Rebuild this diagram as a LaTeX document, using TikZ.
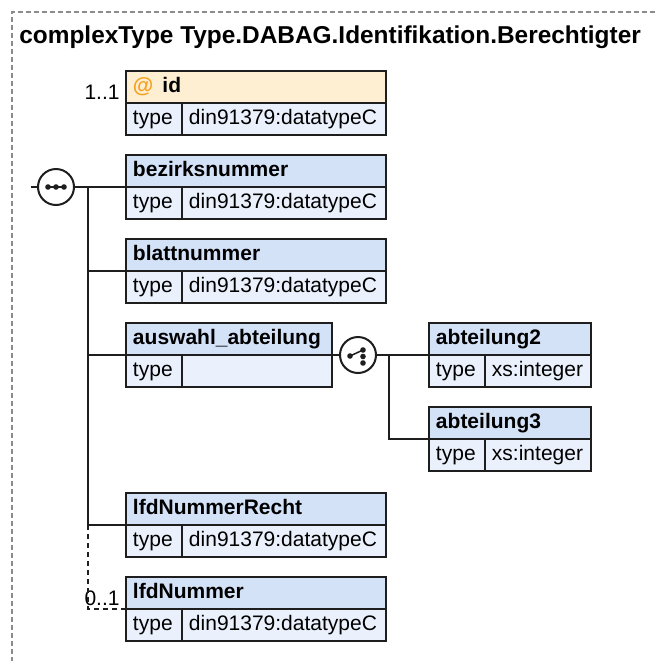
\documentclass[tikz,border=0pt]{standalone}
\usepackage{fontspec}
\setmainfont{Liberation Sans}
\usetikzlibrary{positioning}
\usepackage{xcolor}
\definecolor{hdrblue}{RGB}{212,226,248}
\definecolor{rowblue}{RGB}{234,241,252}
\definecolor{attrbeige}{RGB}{255,239,210}
\definecolor{atorange}{RGB}{245,160,30}
\definecolor{framegray}{RGB}{140,140,140}
\definecolor{edgeblack}{RGB}{30,30,30}

\begin{document}
\begin{tikzpicture}[
    x=0.5pt, y=-0.5pt,
    font=\fontsize{10.5}{12}\selectfont,
    cell/.style={
      draw=edgeblack, line width=1pt, anchor=north west, outer sep=0pt,
      minimum height=16pt, inner xsep=3.5pt, inner ysep=0pt,
      text height=7.6pt, text depth=2.4pt, align=left
    },
    hdr/.style={cell, fill=hdrblue, font=\fontsize{10.5}{12}\selectfont\bfseries},
    attrhdr/.style={hdr, fill=attrbeige},
    typecell/.style={cell, fill=rowblue, text width=21pt},
    valcell/.style={cell, fill=rowblue},
    compositor/.style={
      circle, draw=edgeblack, line width=1pt, fill=white,
      minimum size=18pt, inner sep=0pt, outer sep=0pt
    },
    link/.style={line width=0.75pt, edgeblack},
    mult/.style={inner sep=1.5pt, anchor=south east}
  ]
  \useasboundingbox (0,0) rectangle (655,661);

  % frame and title
  \draw[framegray, line width=0.6pt, dash pattern=on 2.5pt off 1.5pt]
    (655,12) -- (12,12) -- (12,661);
  \node[anchor=base west, inner sep=0pt,
    font=\fontsize{12.2}{14}\selectfont\bfseries] (title) at (19,43)
    {complexType Type.DABAG.Identifikation.Berechtigter};

  % attribute
  \node[attrhdr, text width=123pt] (idH) at (126,71)
    {{\color{atorange}@}\hspace{4.5pt}id};
  \node[typecell] (idT) at (idH.south west) {type};
  \node[valcell, text width=95pt, right=0pt of idT] (idV) {din91379:datatypeC};
  \node[left=1.5pt of idH.south west, mult] (idM) {1..1};

  % sequence children
  \node[hdr, text width=123pt, below=10pt of idT.south west, anchor=north west] (bezH)
    {bezirksnummer};
  \node[typecell] (bezT) at (bezH.south west) {type};
  \node[valcell, text width=95pt, right=0pt of bezT] (bezV) {din91379:datatypeC};

  \node[hdr, text width=123pt, below=10pt of bezT.south west, anchor=north west] (blattH)
    {blattnummer};
  \node[typecell] (blattT) at (blattH.south west) {type};
  \node[valcell, text width=95pt, right=0pt of blattT] (blattV) {din91379:datatypeC};

  \node[hdr, text width=96pt, below=10pt of blattT.south west, anchor=north west] (auswH)
    {auswahl\_abteilung};
  \node[typecell] (auswT) at (auswH.south west) {type};
  \node[valcell, text width=68pt, right=0pt of auswT] (auswV) {};

  \node[hdr, text width=123pt, below=53pt of auswT.south west, anchor=north west] (lfdRH)
    {lfdNummerRecht};
  \node[typecell] (lfdRT) at (lfdRH.south west) {type};
  \node[valcell, text width=95pt, right=0pt of lfdRT] (lfdRV) {din91379:datatypeC};

  \node[hdr, text width=123pt, below=10pt of lfdRT.south west, anchor=north west] (lfdH)
    {lfdNummer};
  \node[typecell] (lfdT) at (lfdH.south west) {type};
  \node[valcell, text width=95pt, right=0pt of lfdT] (lfdV) {din91379:datatypeC};
  \node[left=1.5pt of lfdH.south west, mult] (lfdM) {0..1};

  % choice children
  \node[hdr, text width=74pt, right=48.5pt of auswH.north east, anchor=north west] (abt2H)
    {abteilung2};
  \node[typecell] (abt2T) at (abt2H.south west) {type};
  \node[valcell, text width=46pt, right=0pt of abt2T] (abt2V) {xs:integer};

  \node[hdr, text width=74pt, below=10pt of abt2T.south west, anchor=north west] (abt3H)
    {abteilung3};
  \node[typecell] (abt3T) at (abt3H.south west) {type};
  \node[valcell, text width=46pt, right=0pt of abt3T] (abt3V) {xs:integer};

  % compositors
  \node[compositor, left=26pt of bezH.south west] (seq) {};
  \node[compositor, right=4pt of auswH.south east] (choice) {};
  \coordinate[left=3.5pt of seq.west] (lead);
  \coordinate[right=7pt of seq.east] (trunk);
  \coordinate[right=6.5pt of choice.east] (fork);

  \draw[link] ([xshift=-5pt]seq.center) -- ([xshift=5pt]seq.center);
  \fill[edgeblack] ([xshift=-4pt]seq.center) circle (1.4pt)
    (seq.center) circle (1.4pt) ([xshift=4pt]seq.center) circle (1.4pt);
  \draw[link] ([shift={(-8,1)}]choice.center) -- ([shift={(5,-5)}]choice.center);
  \fill[edgeblack] ([shift={(-8,1)}]choice.center) circle (1.4pt)
    ([shift={(5,-5)}]choice.center) circle (1.4pt)
    ([shift={(5,1.5)}]choice.center) circle (1.4pt)
    ([shift={(5,8)}]choice.center) circle (1.4pt);

  % connectors
  \draw[link] (lead) -- (seq) -- (bezH.south west);
  \draw[link] (trunk) |- (blattH.south west);
  \draw[link] (trunk) |- (auswH.south west);
  \draw[link] (trunk) |- (lfdRH.south west);
  \draw[link, dash pattern=on 2.5pt off 2pt] (trunk |- lfdRH.south west) |- (lfdH.south west);
  \draw[link] (auswH.south east) -- (choice);
  \draw[link] (choice) -- (abt2H.south west);
  \draw[link] (fork) |- (abt3H.south west);
\end{tikzpicture}
\end{document}
